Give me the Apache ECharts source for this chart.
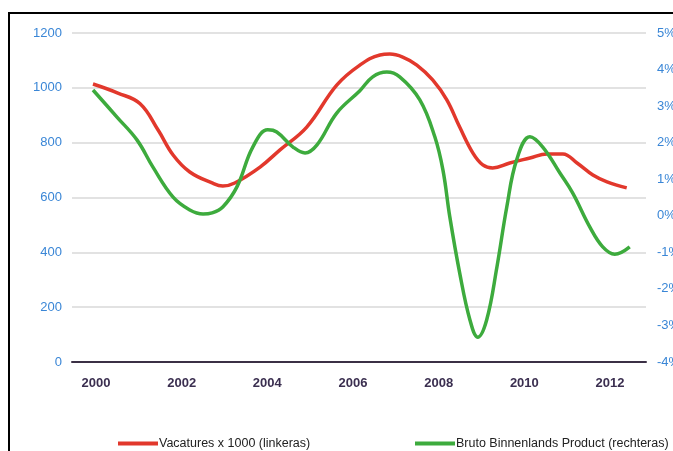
<!DOCTYPE html>
<html>
<head>
<meta charset="utf-8">
<script src="https://cdn.jsdelivr.net/npm/echarts@6/dist/echarts.min.js"></script>
<style>
  html, body { margin: 0; padding: 0; background: #fff; }
  #chart { width: 673px; height: 451px; }
</style>
</head>
<body>
<div id="chart"></div>
<script>
// jaarlabels onder de x-as
var yearTicks = [2000, 2002, 2004, 2006, 2008, 2010, 2012]

// vacatures x 1000 (linkeras)
var vacYears = [1999.93, 2000.51, 2001.03, 2001.45, 2001.80, 2002.19, 2002.71, 2002.96, 2003.24,
  2003.83, 2004.29, 2004.92, 2005.62, 2006.16, 2006.63, 2006.86, 2007.16, 2007.49, 2007.86,
  2008.19, 2008.49, 2008.80, 2009.03, 2009.26, 2009.66, 2010.13, 2010.53, 2010.90, 2011.23,
  2011.60, 2011.93, 2012.39]
var vacValues = [1014, 981, 942, 846, 755, 693, 653, 642, 653,
  711, 773, 857, 1010, 1083, 1120, 1123, 1112, 1083, 1029,
  956, 857, 762, 719, 708, 726, 744, 759, 759, 726,
  682, 657, 635]

// BBP groei in % (rechteras)
var bbpYears = [1999.93, 2000.49, 2000.96, 2001.33, 2001.80, 2002.19, 2002.50, 2002.71, 2002.96, 2003.29,
  2003.66, 2004.01, 2004.22, 2004.60, 2004.88, 2005.16, 2005.62, 2006.16, 2006.46, 2006.79,
  2007.09, 2007.56, 2007.91, 2008.10, 2008.26, 2008.49, 2008.73, 2008.91, 2009.12, 2009.36,
  2009.59, 2009.82, 2010.13, 2010.43, 2010.83, 2011.13, 2011.53, 2011.83, 2012.11, 2012.46]
var bbpValues = [3.44, 2.70, 2.07, 1.33, 0.51, 0.16, 0.05, 0.08, 0.24, 0.79,
  1.88, 2.35, 2.29, 1.88, 1.72, 1.94, 2.81, 3.42, 3.80, 3.93,
  3.80, 3.17, 2.16, 1.25, -0.03, -1.56, -2.85, -3.32, -2.85, -1.40,
  0.24, 1.53, 2.16, 1.88, 1.17, 0.62, -0.31, -0.85, -1.05, -0.85]

var vacName = 'Vacatures x 1000 (linkeras)'
var bbpName = 'Bruto Binnenlands Product (rechteras)'

function pairs(xs, ys) {
  var out = []
  for (var i = 0; i < xs.length; i++) {
    out.push([xs[i], ys[i]])
  }
  return out
}

var font = "'Liberation Sans', Arial, sans-serif"
var legendText = { color: '#222', fontSize: 12.5, fontFamily: font, padding: [0, 0, 0, -4] }

var chart = echarts.init(document.getElementById('chart'))
var option = {
  animation: false,
  color: ['#e2382c', '#3dab3d'],
  graphic: [
    {
      type: 'rect',
      shape: { x: 9, y: 13, width: 720, height: 520 },
      style: { fill: 'none', stroke: '#000', lineWidth: 2 },
      silent: true
    }
  ],
  grid: {
    left: 72,
    right: 27,
    top: 33,
    bottom: 89,
    outerBoundsMode: 'none'
  },
  legend: [
    {
      left: 113,
      top: 432,
      width: 300,
      icon: 'rect',
      itemWidth: 40,
      itemHeight: 4,
      textStyle: legendText,
      data: [vacName]
    },
    {
      left: 410,
      top: 432,
      width: 300,
      icon: 'rect',
      itemWidth: 40,
      itemHeight: 4,
      textStyle: legendText,
      data: [bbpName]
    }
  ],
  xAxis: {
    type: 'value',
    min: 1999.44,
    max: 2012.84,
    splitLine: { show: false },
    axisTick: { show: false },
    axisLine: { show: true, onZero: false, lineStyle: { color: '#3b3045', width: 2 } },
    axisLabel: {
      customValues: yearTicks,
      margin: 15,
      color: '#3b2f50',
      fontWeight: 'bold',
      fontSize: 13,
      fontFamily: font,
      formatter: function (v) { return String(v) }
    }
  },
  yAxis: [
    {
      type: 'value',
      min: 0,
      max: 1200,
      interval: 200,
      axisLine: { show: false },
      axisTick: { show: false },
      splitLine: { lineStyle: { color: '#d9d9d9', width: 1.5 } },
      axisLabel: {
        margin: 10,
        color: '#3a86d6',
        fontSize: 13,
        fontFamily: font,
        formatter: function (v) { return String(v) }
      }
    },
    {
      type: 'value',
      min: -4,
      max: 5,
      interval: 1,
      position: 'right',
      axisLine: { show: false },
      axisTick: { show: false },
      splitLine: { show: false },
      axisLabel: {
        margin: 11,
        color: '#3a86d6',
        fontSize: 13,
        fontFamily: font,
        formatter: function (v) { return v + '%' }
      }
    }
  ],
  series: [
    {
      name: vacName,
      type: 'line',
      yAxisIndex: 0,
      smooth: 0.4,
      showSymbol: false,
      lineStyle: { width: 3.5 },
      data: pairs(vacYears, vacValues)
    },
    {
      name: bbpName,
      type: 'line',
      yAxisIndex: 1,
      smooth: 0.4,
      showSymbol: false,
      lineStyle: { width: 3.5 },
      data: pairs(bbpYears, bbpValues)
    }
  ]
}
chart.setOption(option, true)
</script>
</body>
</html>
